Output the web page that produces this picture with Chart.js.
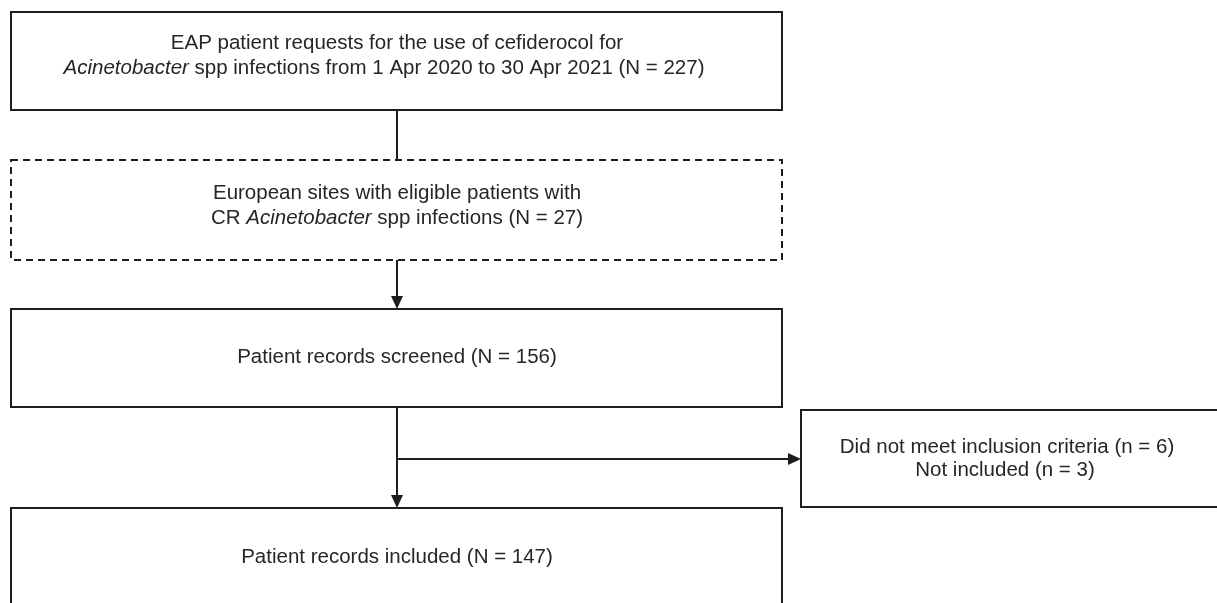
<!DOCTYPE html>
<html>
<head>
<meta charset="utf-8">
<script src="https://cdn.jsdelivr.net/npm/chart.js@4.4.1/dist/chart.umd.min.js"></script>
<style>
  html, body { margin: 0; padding: 0; background: #fff; }
  canvas { display: block; }
</style>
</head>
<body>
<canvas id="fluxo" width="1217" height="603"></canvas>
<script>
// dados do fluxograma
const stepNames = [
  "EAP patient requests",
  "European sites",
  "Patient records screened",
  "Did not meet inclusion criteria",
  "Not included",
  "Patient records included"
];
const stepCounts = [227, 27, 156, 6, 3, 147];
const periodStart = "1 Apr 2020";
const periodEnd = "30 Apr 2021";

// texto de cada caixa: linhas -> segmentos [texto, italico]
const boxTexts = [
  [
    [["EAP patient requests for the use of cefiderocol for", false]],
    [["Acinetobacter", true], [` spp infections from ${periodStart} to ${periodEnd} (N = ${stepCounts[0]})`, false]]
  ],
  [
    [["European sites with eligible patients with", false]],
    [["CR ", false], ["Acinetobacter", true], [` spp infections (N = ${stepCounts[1]})`, false]]
  ],
  [[[`${stepNames[2]} (N = ${stepCounts[2]})`, false]]],
  [
    [[`${stepNames[3]} (n = ${stepCounts[3]})`, false]],
    [[`${stepNames[4]} (n = ${stepCounts[4]})`, false]]
  ],
  [[[`${stepNames[5]} (N = ${stepCounts[5]})`, false]]]
];

// layout (unidades da escala = pixels da figura)
const boxes = [
  { x0: 11, y0: 12, x1: 782, y1: 110, dashed: false, lines: [43, 68], dx: [0, -13], cx: 397 },
  { x0: 11, y0: 160, x1: 782, y1: 260, dashed: true, lines: [193, 218], dx: [0, 0], cx: 397 },
  { x0: 11, y0: 309, x1: 782, y1: 407, dashed: false, lines: [357], dx: [0], cx: 397 },
  { x0: 801, y0: 410, x1: 1230, y1: 507, dashed: false, lines: [447, 470], dx: [0, -2], cx: 1007 },
  { x0: 11, y0: 508, x1: 782, y1: 640, dashed: false, lines: [557], dx: [0], cx: 397 }
];
const spineX = 397;
const links = [
  { from: [spineX, 110], to: [spineX, 160], arrow: false },
  { from: [spineX, 260], to: [spineX, 309], arrow: true },
  { from: [spineX, 407], to: [spineX, 508], arrow: true },
  { from: [spineX, 459], to: [801, 459], arrow: true }
];

const ink = "#1e1e1e";
const fontSize = 20.5;

function drawText(ctx, segs, cx, cy) {
  const fontN = `${fontSize}px "Liberation Sans", Arial, sans-serif`;
  const fontI = `italic ${fontSize}px "Liberation Sans", Arial, sans-serif`;
  let total = 0;
  segs.forEach(s => {
    ctx.font = s[1] ? fontI : fontN;
    total += ctx.measureText(s[0]).width;
  });
  let x = cx - total / 2;
  segs.forEach(s => {
    ctx.font = s[1] ? fontI : fontN;
    ctx.fillText(s[0], x, cy);
    x += ctx.measureText(s[0]).width;
  });
}

const flowPlugin = {
  id: "flowPlugin",
  afterDraw(chart) {
    const ctx = chart.ctx;
    const sx = chart.scales.x, sy = chart.scales.y;
    const px = v => sx.getPixelForValue(v);
    const py = v => sy.getPixelForValue(v);
    ctx.save();
    ctx.strokeStyle = ink;
    ctx.lineWidth = 2;

    // caixas
    boxes.forEach((b, i) => {
      ctx.setLineDash(b.dashed ? [7, 5] : []);
      ctx.strokeRect(px(b.x0), py(b.y0), px(b.x1) - px(b.x0), py(b.y1) - py(b.y0));
      ctx.setLineDash([]);
      ctx.fillStyle = "#262626";
      ctx.textBaseline = "middle";
      boxTexts[i].forEach((ln, j) => drawText(ctx, ln, px(b.cx + b.dx[j]), py(b.lines[j])));
    });

    // conectores
    ctx.fillStyle = ink;
    links.forEach(l => {
      const x0 = px(l.from[0]), y0 = py(l.from[1]);
      const x1 = px(l.to[0]), y1 = py(l.to[1]);
      const vertical = x0 === x1;
      const head = l.arrow ? 12 : 0;
      ctx.beginPath();
      ctx.moveTo(x0, y0);
      if (vertical) ctx.lineTo(x1, y1 - head);
      else ctx.lineTo(x1 - head, y1);
      ctx.stroke();
      if (l.arrow) {
        ctx.beginPath();
        if (vertical) {
          ctx.moveTo(x1, y1);
          ctx.lineTo(x1 - 6, y1 - 13);
          ctx.lineTo(x1 + 6, y1 - 13);
        } else {
          ctx.moveTo(x1, y1);
          ctx.lineTo(x1 - 13, y1 - 6);
          ctx.lineTo(x1 - 13, y1 + 6);
        }
        ctx.closePath();
        ctx.fill();
      }
    });
    ctx.restore();
  }
};

new Chart(document.getElementById("fluxo").getContext("2d"), {
  type: "scatter",
  data: { datasets: [{ data: [], pointRadius: 0 }] },
  options: {
    responsive: false,
    animation: false,
    devicePixelRatio: 1,
    layout: { padding: 0 },
    plugins: { legend: { display: false }, tooltip: { enabled: false } },
    scales: {
      x: { type: "linear", min: 0, max: 1217, display: false },
      y: { type: "linear", min: 0, max: 603, reverse: true, display: false }
    }
  },
  plugins: [flowPlugin]
});
</script>
</body>
</html>
